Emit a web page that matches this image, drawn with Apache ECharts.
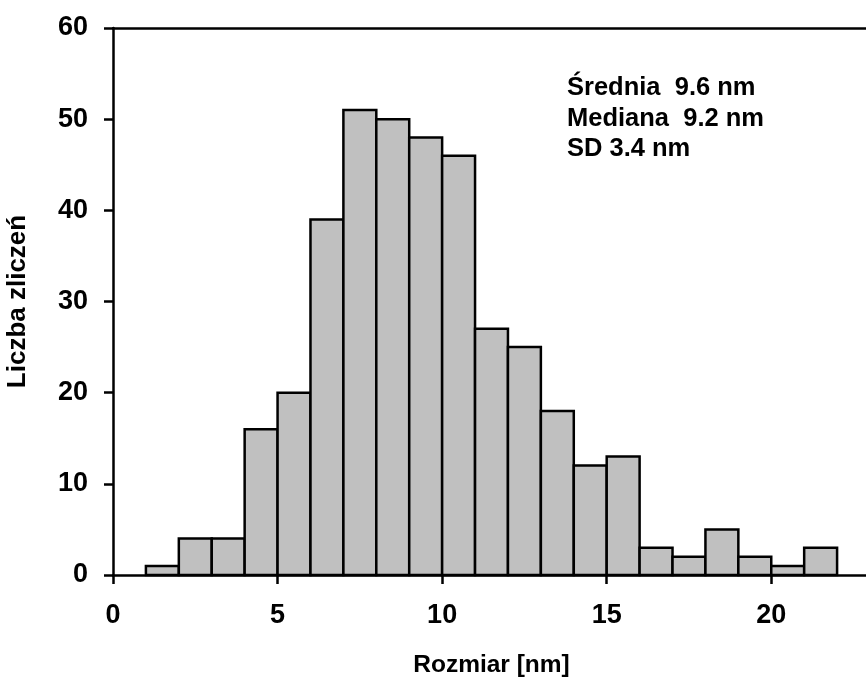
<!DOCTYPE html>
<html>
<head>
<meta charset="utf-8">
<script src="https://cdn.jsdelivr.net/npm/echarts@6/dist/echarts.min.js"></script>
<style>html,body{margin:0;padding:0;background:#fff}#c{width:866px;height:680px}</style>
</head>
<body>
<div id="c"></div>
<script>
const binStarts = [1,2,3,4,5,6,7,8,9,10,11,12,13,14,15,16,17,18,19,20,21];
const counts = [1,4,4,16,20,39,51,50,48,46,27,25,18,12,13,3,2,5,2,1,3];
const binWidth = 1;
const yTicks = [0,10,20,30,40,50,60];
const xTicks = [0,5,10,15,20];
const statsLines = ['Średnia  9.6 nm', 'Mediana  9.2 nm', 'SD 3.4 nm'];

const FONT = '"Liberation Sans", Arial, sans-serif';
const data = binStarts.map((s, i) => [s, s + binWidth, counts[i]]);

const chart = echarts.init(document.getElementById('c'), null, {renderer: 'canvas'});
chart.setOption({
  animation: false,
  grid: {left: 113, top: 28, height: 547, width: 757, outerBoundsMode: 'none', containLabel: false},
  xAxis: [{
    type: 'value', min: 0, max: 23, interval: 5,
    name: 'Rozmiar [nm]', nameLocation: 'middle', nameGap: 78,
    nameTextStyle: {fontFamily: FONT, fontWeight: 'bold', fontSize: 24.5, color: '#000'},
    axisLine: {show: true, onZero: false, lineStyle: {color: '#000', width: 2.5}},
    axisTick: {show: true, length: 9, lineStyle: {color: '#000', width: 2.5}},
    axisLabel: {show: true, margin: 27, showMaxLabel: false, fontFamily: FONT, fontWeight: 'bold', fontSize: 27, color: '#000',
      formatter: v => xTicks.includes(v) ? String(v) : ''},
    splitLine: {show: false}
  }, {
    type: 'value', min: 0, max: 23, position: 'top',
    axisLine: {show: true, onZero: false, lineStyle: {color: '#000', width: 2.5}},
    axisTick: {show: false}, axisLabel: {show: false}, splitLine: {show: false}
  }],
  yAxis: {
    type: 'value', min: 0, max: 60, interval: 10,
    name: 'Liczba zliczeń', nameLocation: 'middle', nameGap: 82,
    nameTextStyle: {fontFamily: FONT, fontWeight: 'bold', fontSize: 26, color: '#000'},
    axisLine: {show: true, onZero: false, lineStyle: {color: '#000', width: 2.5}},
    axisTick: {show: true, length: 9, lineStyle: {color: '#000', width: 2.5}},
    axisLabel: {margin: 25, fontFamily: FONT, fontWeight: 'bold', fontSize: 27, color: '#000',
      formatter: v => yTicks.includes(v) ? String(v) : ''},
    splitLine: {show: false}
  },
  series: [{
    type: 'custom',
    xAxisIndex: 0,
    data: data,
    renderItem: function (params, api) {
      const p0 = api.coord([api.value(0), api.value(2)]);
      const p1 = api.coord([api.value(1), 0]);
      return {
        type: 'rect',
        shape: {x: p0[0], y: p0[1], width: p1[0] - p0[0], height: p1[1] - p0[1]},
        style: {fill: '#c0c0c0', stroke: '#000', lineWidth: 2.5}
      };
    },
    encode: {x: [0, 1], y: 2},
    z: 1
  }],
  graphic: statsLines.map((t, i) => ({
    type: 'text', x: 567, y: 88 + i * 30.5,
    style: {text: t, font: 'bold 25.5px ' + FONT, fill: '#000', verticalAlign: 'middle'}
  }))
});
</script>
</body>
</html>
